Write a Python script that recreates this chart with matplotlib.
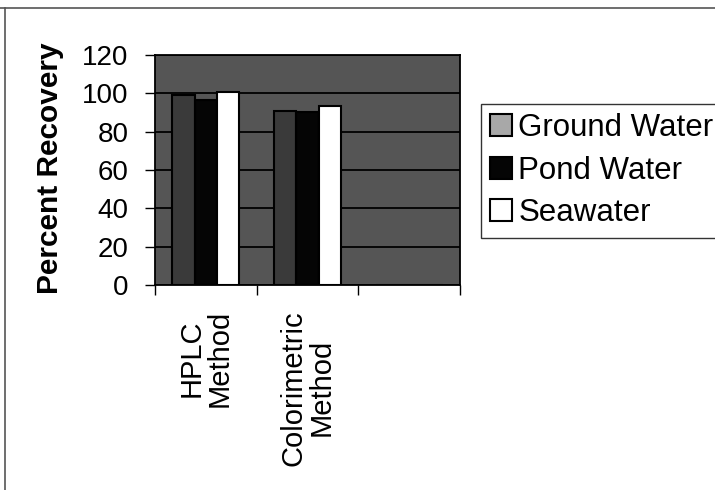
import matplotlib
matplotlib.use('Agg')
import matplotlib.pyplot as plt
from matplotlib.patches import Patch
from matplotlib.lines import Line2D
import numpy as np

plt.rcParams['font.family'] = ['Liberation Sans', 'DejaVu Sans']

# 数据
methods = ['HPLC\nMethod', 'Colorimetric\nMethod', '']
series = ['Ground Water', 'Pond Water', 'Seawater']
ground_water = [99, 91, 0]
pond_water = [96.5, 90.5, 0]
seawater = [100.5, 93.5, 0]
y_ticks = [0, 20, 40, 60, 80, 100, 120]

bar_colors = ['#3a3a3a', '#050505', '#ffffff']
legend_colors = ['#a8a8a8', '#050505', '#ffffff']

fig = plt.figure(figsize=(7.15, 4.9), dpi=100)
ax = fig.add_axes([155 / 715, 1 - 285 / 490, 305 / 715, 230 / 490])

x = np.arange(len(methods))
w = 0.22
for i, vals in enumerate([ground_water, pond_water, seawater]):
    ax.bar(x + (i - 1) * w, vals, width=w, color=bar_colors[i],
           edgecolor='black', linewidth=1.5, zorder=3)

# 背景和网格线
ax.set_facecolor('#555555')
ax.set_ylim(0, 120)
ax.set_xlim(-0.5, 2.5)
ax.set_yticks(y_ticks)
ax.set_yticklabels([str(v) for v in y_ticks], fontsize=20)
ax.yaxis.grid(True, color='black', linewidth=1.3, zorder=1)
ax.set_axisbelow(True)

ax.set_xticks([-0.5, 0.5, 1.5, 2.5])
ax.set_xticklabels([])
ax.set_xticks(x, minor=True)
ax.set_xticklabels(methods, minor=True, rotation=90, fontsize=21,
                   multialignment='center', linespacing=1.0)
ax.tick_params(axis='x', which='minor', length=0, pad=18)
ax.tick_params(axis='x', which='major', length=7, width=1, direction='out')
ax.tick_params(axis='y', length=7, width=1, pad=12, direction='out')
for s in ax.spines.values():
    s.set_color('black')
    s.set_linewidth(1.3)

fig.text(50 / 715, 1 - 168 / 490, 'Percent Recovery', rotation=90,
         ha='center', va='center', fontsize=21.5, fontweight='bold')

handles = [Patch(facecolor=legend_colors[i], edgecolor='black', linewidth=1.5)
           for i in range(3)]
fig.legend(handles, series, loc='upper left',
           bbox_to_anchor=(481 / 715, 1 - 104 / 490), fontsize=22.5,
           frameon=True, fancybox=False, edgecolor='black',
           handlelength=0.7, handleheight=0.7, handletextpad=0.2,
           labelspacing=0.4, borderpad=0.3, borderaxespad=0)

# 外框
fig.add_artist(Line2D([0, 1], [1 - 8 / 490, 1 - 8 / 490], color='#555555',
                      linewidth=1.2, transform=fig.transFigure))
fig.add_artist(Line2D([5 / 715, 5 / 715], [0, 1 - 8 / 490], color='#555555',
                      linewidth=1.2, transform=fig.transFigure))

fig.savefig('out.png', dpi=100)
